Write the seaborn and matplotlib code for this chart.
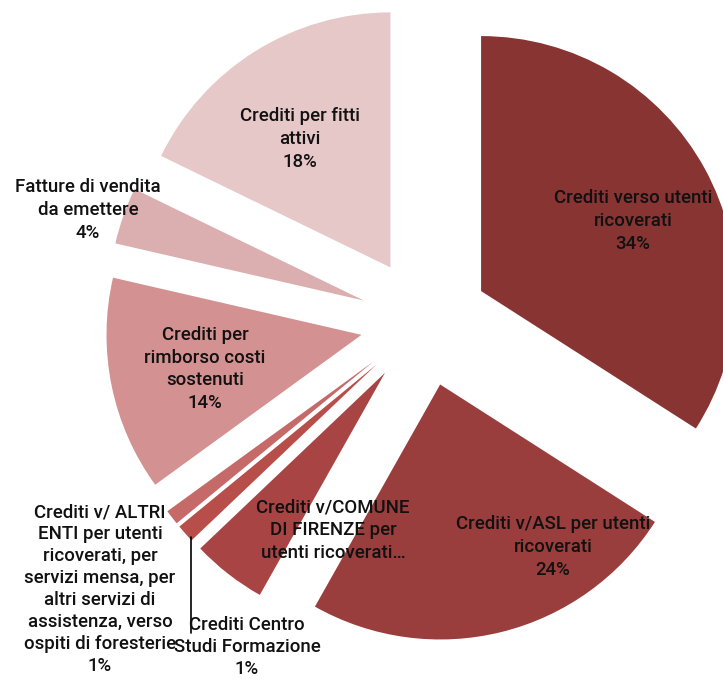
import matplotlib
matplotlib.use("Agg")
import matplotlib.pyplot as plt
import seaborn as sns

sns.set_theme(style="white")
plt.rcParams['font.family'] = ['Roboto', 'DejaVu Sans']

# ---- data ----
categories = [
    "Crediti verso utenti\nricoverati",
    "Crediti v/ASL per utenti\nricoverati",
    "Crediti v/COMUNE\nDI FIRENZE per\nutenti ricoverati…",
    "Crediti Centro\nStudi Formazione",
    "Crediti v/ ALTRI\nENTI per utenti\nricoverati, per\nservizi mensa, per\naltri servizi di\nassistenza, verso\nospiti di foresterie",
    "Crediti per\nrimborso costi\nsostenuti",
    "Fatture di vendita\nda emettere",
    "Crediti per fitti\nattivi",
]
values = [34.06, 24.11, 4.73, 1.15, 0.95, 13.6, 3.6, 17.8]
pct_labels = ["34%", "24%", "", "1%", "1%", "14%", "4%", "18%"]
colors = ["#873433", "#993E3C", "#A84544", "#B84E4A", "#C56A69",
          "#D39191", "#DBAEAF", "#E7C8C9"]

# ---- layout (pixel positions of label centres in the 723x680 image) ----
W, H = 723, 680
CX, CY, R = 424.6, 322.0, 255.0
label_px = [(633, 221), (553, 547), (333, 530), (247, 647),
            (100, 589), (205, 369), (88, 210), (300, 139)]

fig = plt.figure(figsize=(W / 100, H / 100), dpi=100)
ax = fig.add_axes([0, 0, 1, 1])
ax.pie(values, colors=colors, startangle=90, counterclock=False,
       explode=[0.2525] * len(values), radius=1.0,
       wedgeprops=dict(linewidth=0))
ax.set_xlim((0 - CX) / R, (W - CX) / R)
ax.set_ylim((CY - H) / R, (CY - 0) / R)
ax.set_aspect("equal")
ax.axis("off")


def px2data(x, y):
    return (x - CX) / R, (CY - y) / R


for i, (cat, pl, (lx, ly)) in enumerate(zip(categories, pct_labels, label_px)):
    txt = cat + (f"\n{pl}" if pl else "")
    dx, dy = px2data(lx, ly)
    ls = 1.28 if i in (3, 4) else 1.33
    ax.text(dx, dy, txt, ha="center", va="center", fontsize=13.4,
            fontweight="medium", color="#111111", linespacing=ls)

# leader line for "Crediti Centro Studi Formazione"
x0, y0 = px2data(191, 537)
x1, y1 = px2data(191, 633)
ax.plot([x0, x1], [y0, y1], color="black", linewidth=1.2)

fig.savefig("out.png", dpi=100)
